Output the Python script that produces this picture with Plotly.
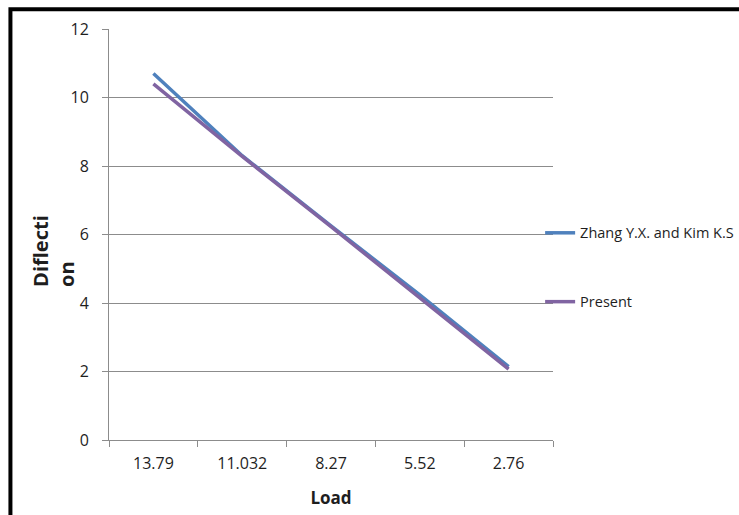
import plotly.graph_objects as go

# Load steps (category axis) and mid-span deflection for each source
loads = ["13.79", "11.032", "8.27", "5.52", "2.76"]
zhang_kim = [10.70, 8.30, 6.25, 4.24, 2.14]
present = [10.40, 8.28, 6.23, 4.16, 2.07]
y_ticks = [0, 2, 4, 6, 8, 10, 12]

FONT = "Open Sans, Lato, sans-serif"
GRID = "#8c8c8c"
TEXT = "#1e1e1e"

fig = go.Figure()
fig.add_trace(go.Scatter(
    x=loads, y=zhang_kim, mode="lines", name="Zhang Y.X. and Kim K.S",
    line=dict(color="#4f81bd", width=3.5), legendgroup="a",
))
fig.add_trace(go.Scatter(
    x=loads, y=present, mode="lines", name="Present",
    line=dict(color="#8064a2", width=3.5), legendgroup="b",
))

fig.update_layout(
    width=739, height=515,
    margin=dict(l=109, r=186, t=29, b=75, autoexpand=False),
    paper_bgcolor="white", plot_bgcolor="white",
    font=dict(family=FONT, size=16, color=TEXT),
    showlegend=True,
    legend=dict(
        x=0.971, xanchor="left", y=0.42, yanchor="middle",
        bgcolor="rgba(0,0,0,0)", tracegroupgap=47,
        itemwidth=30, font=dict(family=FONT, size=14.5, color=TEXT),
    ),
    xaxis=dict(
        type="category", range=[-0.5, 4.5], tickson="boundaries",
        showgrid=False, showline=True, linecolor=GRID, linewidth=1,
        ticks="outside", ticklen=6, tickcolor=GRID,
        ticklabelstandoff=9, tickfont=dict(size=16),
        title=dict(text="<b>Load</b>", standoff=18,
                   font=dict(family=FONT, size=17, color=TEXT)),
    ),
    yaxis=dict(
        range=[0, 12], tickvals=y_ticks, showgrid=True, gridcolor=GRID,
        gridwidth=1, zeroline=False, showline=True, linecolor=GRID,
        linewidth=1, ticks="outside", ticklen=6, tickcolor=GRID,
        ticklabelstandoff=10, tickfont=dict(size=16),
    ),
)

# Y-axis title wrapped across two left-aligned lines
fig.add_annotation(
    text="<b>Diflecti<br>on</b>", textangle=-90, align="left",
    xref="paper", yref="paper", x=-0.124, y=0.46, xanchor="center",
    yanchor="middle", showarrow=False,
    font=dict(family=FONT, size=20, color=TEXT),
)

# Chart frame
fig.add_shape(
    type="rect", xref="paper", yref="paper",
    x0=-0.222, y0=-0.3, x1=1.5, y1=1.048,
    line=dict(color="black", width=4), layer="above",
)

fig.write_html("out.html")
